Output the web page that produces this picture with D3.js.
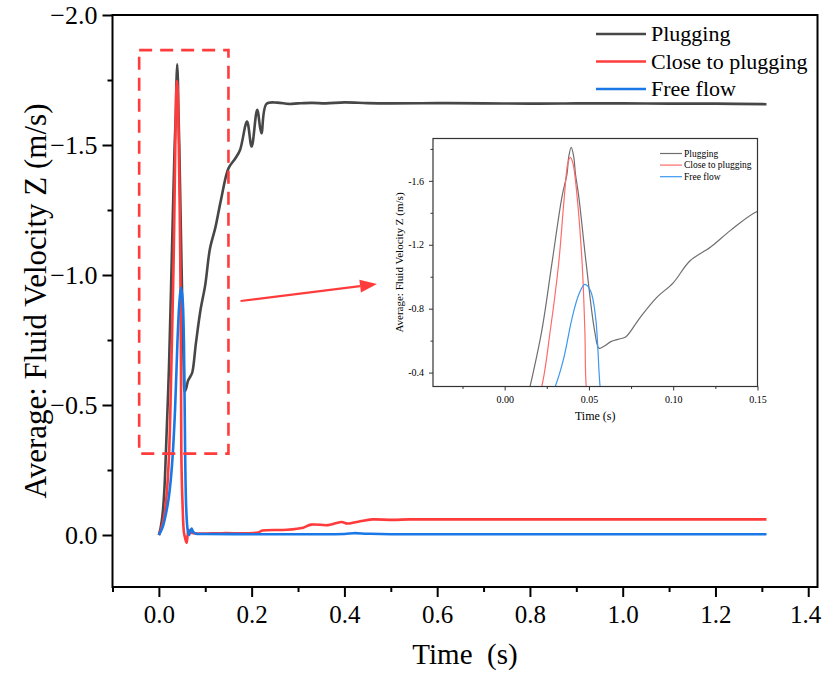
<!DOCTYPE html>
<html>
<head>
<meta charset="utf-8">
<script src="https://cdn.jsdelivr.net/npm/d3@7"></script>
<style>
html, body { margin: 0; padding: 0; background: #fff; }
svg { display: block; }
text { font-family: "Liberation Serif", "Times New Roman", serif; fill: #000; }
</style>
</head>
<body>
<svg id="chart" width="822" height="676"></svg>
<script>
// series: [time (s), average fluid velocity Z (m/s)]
const plugging = [
  [0, 0], [0.004, -0.03], [0.008, -0.08], [0.012, -0.18], [0.015, -0.31], [0.022, -0.66],
  [0.028, -1.08], [0.034, -1.50], [0.037, -1.644], [0.038, -1.75], [0.0395, -1.81], [0.041, -1.75],
  [0.042, -1.644], [0.044, -1.50], [0.0484, -1.08], [0.0534, -0.66], [0.056, -0.552], [0.059, -0.565],
  [0.063, -0.594], [0.068, -0.61], [0.072, -0.625], [0.08, -0.74], [0.09, -0.868], [0.1, -0.962],
  [0.11, -1.10], [0.122, -1.184], [0.134, -1.29], [0.15, -1.41], [0.165, -1.449], [0.175, -1.481],
  [0.19, -1.59], [0.2, -1.494], [0.212, -1.635], [0.221, -1.545], [0.232, -1.658], [0.255, -1.663],
  [0.28, -1.658], [0.3, -1.66], [0.33, -1.662], [0.36, -1.66], [0.4, -1.664], [0.45, -1.661],
  [0.5, -1.66], [0.6, -1.661], [0.7, -1.66], [0.8, -1.659], [0.9, -1.66], [1.0, -1.66],
  [1.1, -1.659], [1.2, -1.659], [1.31, -1.657]
];
const closeToPlugging = [
  [0, 0], [0.006, -0.03], [0.012, -0.08], [0.017, -0.16], [0.022, -0.313], [0.027, -0.657],
  [0.032, -1.078], [0.0354, -1.50], [0.0375, -1.71], [0.039, -1.747], [0.0405, -1.71], [0.043, -1.50],
  [0.046, -1.078], [0.0476, -0.657], [0.0484, -0.313], [0.051, -0.12], [0.054, -0.01], [0.057, 0.015],
  [0.0597, 0.03], [0.062, 0.0], [0.064, -0.02], [0.068, -0.01], [0.08, -0.006], [0.135, -0.007],
  [0.214, -0.01], [0.223, -0.017], [0.276, -0.02], [0.311, -0.028], [0.328, -0.04], [0.364, -0.038],
  [0.381, -0.045], [0.394, -0.05], [0.407, -0.044], [0.434, -0.053], [0.46, -0.06], [0.504, -0.058],
  [0.54, -0.06], [0.6, -0.06], [0.8, -0.06], [1.0, -0.06], [1.2, -0.06], [1.31, -0.06]
];
const freeFlow = [
  [0, 0], [0.008, -0.03], [0.015, -0.08], [0.021, -0.14], [0.026, -0.22], [0.030, -0.313],
  [0.035, -0.488], [0.040, -0.741], [0.044, -0.889], [0.0476, -0.952], [0.051, -0.91], [0.054, -0.741],
  [0.0566, -0.313], [0.059, -0.1], [0.062, -0.02], [0.065, 0.0], [0.068, -0.015], [0.0705, -0.025],
  [0.074, -0.012], [0.08, -0.005], [0.1, -0.004], [0.2, -0.003], [0.3, -0.003], [0.4, -0.004],
  [0.42, -0.007], [0.45, -0.005], [0.5, -0.003], [0.8, -0.003], [1.0, -0.003], [1.31, -0.003]
];
const seriesNames = ['Plugging', 'Close to plugging', 'Free flow'];

const xTicks = [0, 0.2, 0.4, 0.6, 0.8, 1.0, 1.2, 1.4];
const xMinorTicks = [-0.1, 0.1, 0.3, 0.5, 0.7, 0.9, 1.1, 1.3];
const yTicks = [-2.0, -1.5, -1.0, -0.5, 0.0];
const yMinorTicks = [-1.75, -1.25, -0.75, -0.25];
const insetXTicks = [0, 0.05, 0.10, 0.15];
const insetXMinorTicks = [-0.025, 0.025, 0.075, 0.125];
const insetYTicks = [-1.6, -1.2, -0.8, -0.4];
const insetYMinorTicks = [-1.8, -1.4, -1.0, -0.6];
const zoomX = [-0.0425, 0.15];
const zoomY = [-1.865, -0.313];

const allSeries = [plugging, closeToPlugging, freeFlow];
const mainColors = ['#474747', '#ff3b3b', '#1a78e6'];
const insetColors = ['#6e6e6e', '#ff6a6a', '#3b97f2'];

const svg = d3.select('#chart');
const frame = { left: 112.5, right: 817.5, top: 15, bottom: 587 };
const x = d3.scaleLinear([-0.1, 1.42], [frame.left, frame.right]);
const y = d3.scaleLinear([-2.0, 0.2], [frame.top, frame.bottom]);

svg.append('defs').append('clipPath').attr('id', 'clip-main').append('rect')
  .attr('x', frame.left).attr('y', frame.top).attr('width', frame.right - frame.left).attr('height', frame.bottom - frame.top);

// main axes
const fmt1 = d3.format('.1f');
const gx = svg.append('g').attr('transform', `translate(0,${frame.bottom})`)
  .call(d3.axisBottom(x).tickValues(xTicks).tickFormat(fmt1).tickSize(10).tickPadding(8).tickSizeOuter(0));
svg.append('g').attr('transform', `translate(0,${frame.bottom})`)
  .call(d3.axisBottom(x).tickValues(xMinorTicks).tickFormat('').tickSize(5).tickSizeOuter(0));
const gy = svg.append('g').attr('transform', `translate(${frame.left},0)`)
  .call(d3.axisLeft(y).tickValues(yTicks).tickFormat(fmt1).tickSize(10).tickPadding(5).tickSizeOuter(0));
svg.append('g').attr('transform', `translate(${frame.left},0)`)
  .call(d3.axisLeft(y).tickValues(yMinorTicks).tickFormat('').tickSize(5).tickSizeOuter(0));
svg.selectAll('.domain').remove();
svg.selectAll('.tick line').attr('stroke', '#000').attr('stroke-width', 2);
gx.selectAll('text').style('font-size', '25px').attr('fill', '#000');
gx.selectAll('.tick').filter((d) => d === 1.4).select('text').attr('dx', '-3');
gy.selectAll('text').style('font-size', '26px').attr('fill', '#000');

svg.append('rect')
  .attr('x', frame.left).attr('y', frame.top).attr('width', frame.right - frame.left).attr('height', frame.bottom - frame.top)
  .attr('fill', 'none').attr('stroke', '#000').attr('stroke-width', 2);

svg.append('text').attr('x', (frame.left + frame.right) / 2).attr('y', 664)
  .attr('text-anchor', 'middle').style('font-size', '29px').style('white-space', 'pre')
  .text('Time  (s)');
svg.append('text').attr('transform', `translate(46,${(frame.top + frame.bottom) / 2}) rotate(-90)`)
  .attr('text-anchor', 'middle').style('font-size', '31px')
  .text('Average: Fluid Velocity Z (m/s)');

// main lines
const line = d3.line().x((d) => x(d[0])).y((d) => y(d[1])).curve(d3.curveCatmullRom.alpha(0.5));
const lines = svg.append('g').attr('clip-path', 'url(#clip-main)');
allSeries.forEach((s, i) => {
  lines.append('path').datum(s).attr('d', line)
    .attr('fill', 'none').attr('stroke', mainColors[i]).attr('stroke-width', 2.6)
    .attr('stroke-linejoin', 'round');
});

// main legend
const legend = svg.append('g');
seriesNames.forEach((name, i) => {
  const ly = 34 + i * 27.5;
  legend.append('line').attr('x1', 596).attr('x2', 646).attr('y1', ly).attr('y2', ly)
    .attr('stroke', mainColors[i]).attr('stroke-width', 2.6);
  legend.append('text').attr('x', 651).attr('y', ly).attr('dy', '0.33em').style('font-size', '22px').text(name);
});

// zoom box + arrow
svg.append('rect')
  .attr('x', x(zoomX[0])).attr('y', y(zoomY[0]))
  .attr('width', x(zoomX[1]) - x(zoomX[0])).attr('height', y(zoomY[1]) - y(zoomY[0]))
  .attr('fill', 'none').attr('stroke', '#ff3b3b').attr('stroke-width', 2.6).attr('stroke-dasharray', '13,8');

const inset = { left: 433, right: 757.5, top: 138.5, bottom: 386.5 };
const a0 = [x(0.176), y(-0.9)];
const a1 = [inset.left - 56, 284];
const ang = Math.atan2(a1[1] - a0[1], a1[0] - a0[0]);
const headLen = 17, headW = 6.5;
const base = [a1[0] - headLen * Math.cos(ang), a1[1] - headLen * Math.sin(ang)];
svg.append('line').attr('x1', a0[0]).attr('y1', a0[1]).attr('x2', base[0]).attr('y2', base[1])
  .attr('stroke', '#ff3b3b').attr('stroke-width', 2.2);
svg.append('path')
  .attr('d', `M${a1[0]},${a1[1]}L${base[0] - headW * Math.sin(ang)},${base[1] + headW * Math.cos(ang)}L${base[0] + headW * Math.sin(ang)},${base[1] - headW * Math.cos(ang)}Z`)
  .attr('fill', '#ff3b3b');

// inset
const xi = d3.scaleLinear(zoomX, [inset.left, inset.right]);
const yi = d3.scaleLinear(zoomY, [inset.top, inset.bottom]);
const gi = svg.append('g');
gi.append('rect').attr('x', inset.left).attr('y', inset.top)
  .attr('width', inset.right - inset.left).attr('height', inset.bottom - inset.top).attr('fill', '#fff');
gi.append('clipPath').attr('id', 'clip-inset').append('rect')
  .attr('x', inset.left).attr('y', inset.top).attr('width', inset.right - inset.left).attr('height', inset.bottom - inset.top);

const fmtIn = (f) => (d) => d3.format(f)(d).replace('\u2212', '-');
gi.append('g').attr('transform', `translate(0,${inset.bottom})`)
  .call(d3.axisBottom(xi).tickValues(insetXTicks).tickFormat(fmtIn('.2f')).tickSize(4).tickPadding(5).tickSizeOuter(0));
gi.append('g').attr('transform', `translate(0,${inset.bottom})`)
  .call(d3.axisBottom(xi).tickValues(insetXMinorTicks).tickFormat('').tickSize(2.5).tickSizeOuter(0));
gi.append('g').attr('transform', `translate(${inset.left},0)`)
  .call(d3.axisLeft(yi).tickValues(insetYTicks).tickFormat(fmtIn('.1f')).tickSize(4).tickPadding(5).tickSizeOuter(0));
gi.append('g').attr('transform', `translate(${inset.left},0)`)
  .call(d3.axisLeft(yi).tickValues(insetYMinorTicks).tickFormat('').tickSize(2.5).tickSizeOuter(0));
gi.selectAll('.domain').remove();
gi.selectAll('.tick line').attr('stroke', '#333').attr('stroke-width', 1);
gi.selectAll('.tick text').style('font-size', '10px').attr('fill', '#333');

const lineIn = d3.line().x((d) => xi(d[0])).y((d) => yi(d[1])).curve(d3.curveCatmullRom.alpha(0.5));
const insetLines = gi.append('g').attr('clip-path', 'url(#clip-inset)');
allSeries.forEach((s, i) => {
  insetLines.append('path').datum(s).attr('d', lineIn)
    .attr('fill', 'none').attr('stroke', insetColors[i]).attr('stroke-width', 1.2);
});
gi.append('rect').attr('x', inset.left).attr('y', inset.top)
  .attr('width', inset.right - inset.left).attr('height', inset.bottom - inset.top)
  .attr('fill', 'none').attr('stroke', '#333').attr('stroke-width', 1.2);

gi.append('text').attr('x', (inset.left + inset.right) / 2).attr('y', 420)
  .attr('text-anchor', 'middle').style('font-size', '12px').attr('fill', '#222').text('Time (s)');
gi.append('text').attr('transform', `translate(403,${(inset.top + inset.bottom) / 2}) rotate(-90)`)
  .attr('text-anchor', 'middle').style('font-size', '11px').attr('fill', '#222')
  .text('Average: Fluid Velocity Z (m/s)');

seriesNames.forEach((name, i) => {
  const ly = 153.5 + i * 11.6;
  gi.append('line').attr('x1', 660).attr('x2', 682).attr('y1', ly).attr('y2', ly)
    .attr('stroke', insetColors[i]).attr('stroke-width', 1.2);
  gi.append('text').attr('x', 684).attr('y', ly).attr('dy', '0.33em')
    .style('font-size', '9.5px').attr('fill', '#222').text(name);
});
</script>
</body>
</html>
